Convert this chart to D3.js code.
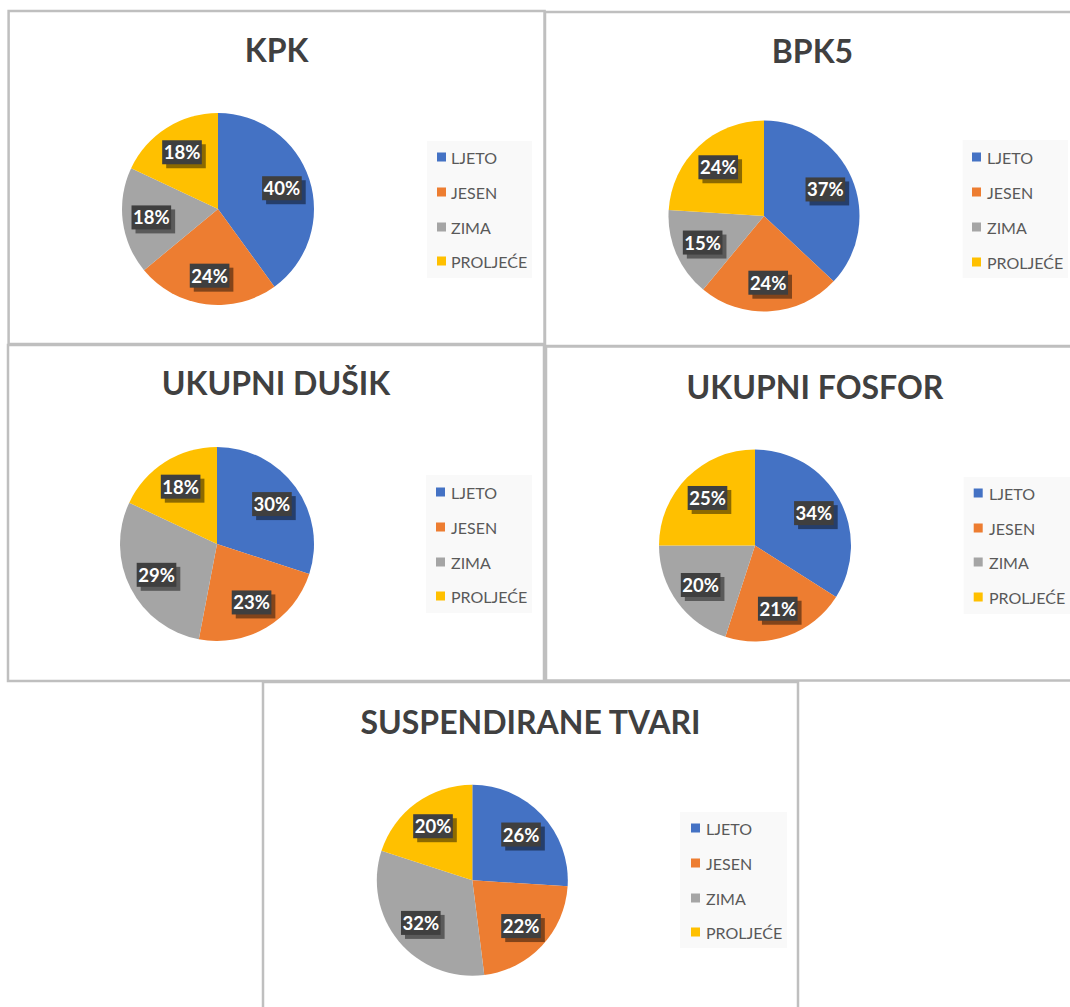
<!DOCTYPE html>
<html>
<head>
<meta charset="utf-8">
<script src="https://cdn.jsdelivr.net/npm/d3@7"></script>
<style>
  html, body { margin: 0; padding: 0; background: #ffffff; }
  svg { display: block; }
</style>
</head>
<body>
<script>
// ---- DATA ----
const categories = ["LJETO", "JESEN", "ZIMA", "PROLJEĆE"];
const chartTitles = ["KPK", "BPK5", "UKUPNI DUŠIK", "UKUPNI FOSFOR", "SUSPENDIRANE TVARI"];
const kpk = [40, 24, 18, 18];
const bpk5 = [37, 24, 15, 24];
const ukupniDusik = [30, 23, 29, 18];
const ukupniFosfor = [34, 21, 20, 25];
const suspendiraneTvari = [26, 22, 32, 20];
const seriesList = [kpk, bpk5, ukupniDusik, ukupniFosfor, suspendiraneTvari];

// ---- LAYOUT (positions only) ----
const layout = [
  { x0: 8.6, y0: 11, x1: 544.6, y1: 344, titleY: 62, cx: 218, cy: 209, r: 96,
    lg: { x0: 427, y0: 141, x1: 532, y1: 278, sx: 437, tx: 451, rows: [157, 192, 227, 261] } },
  { x0: 545, y0: 12, x1: 1080, y1: 346, titleY: 62.5, cx: 764, cy: 216, r: 95.5,
    lg: { x0: 962.6, y0: 140, x1: 1068, y1: 278, sx: 972, tx: 987, rows: [157, 192, 227, 262] } },
  { x0: 8, y0: 345, x1: 544, y1: 681, titleY: 395, cx: 217, cy: 544, r: 97,
    lg: { x0: 426, y0: 475, x1: 532, y1: 613, sx: 436, tx: 451, rows: [492, 527, 562, 596] } },
  { x0: 546, y0: 346.5, x1: 1084, y1: 680.5, titleY: 398.5, cx: 755, cy: 545.5, r: 96,
    lg: { x0: 963.6, y0: 477, x1: 1072, y1: 614, sx: 973.7, tx: 989, rows: [493, 528, 562, 597] } },
  { x0: 263, y0: 682, x1: 798, y1: 1020, titleY: 733.5, cx: 472.3, cy: 880.3, r: 95.5,
    lg: { x0: 680, y0: 812, x1: 787, y1: 948, sx: 691, tx: 706, rows: [828, 863, 898, 932] } }
];

const W = 1070, H = 1007;
const color = d3.scaleOrdinal().domain(categories)
  .range(["#4472C4", "#ED7D31", "#A5A5A5", "#FFC000"]);

const svg = d3.select("body").append("svg")
  .attr("width", W).attr("height", H)
  .attr("viewBox", `0 0 ${W} ${H}`);

svg.append("rect").attr("width", W).attr("height", H).attr("fill", "#ffffff");

const pie = d3.pie().sort(null).value(d => d.value);

seriesList.forEach((values, i) => {
  const L = layout[i];
  const g = svg.append("g");

  // panel border
  g.append("rect")
    .attr("x", L.x0).attr("y", L.y0)
    .attr("width", L.x1 - L.x0).attr("height", L.y1 - L.y0)
    .attr("fill", "#ffffff")
    .attr("stroke", "#bfbfbf").attr("stroke-width", 2.5);

  // title
  g.append("text")
    .attr("x", (L.x0 + L.x1) / 2).attr("y", L.titleY)
    .attr("text-anchor", "middle")
    .attr("font-family", "Lato, 'Open Sans', sans-serif")
    .attr("font-weight", 700)
    .attr("font-size", 32)
    .attr("fill", "#404040")
    .text(chartTitles[i]);

  const data = categories.map((c, k) => ({ cat: c, value: values[k] }));
  const arcs = pie(data);
  const arc = d3.arc().innerRadius(0).outerRadius(L.r);
  const labelArc = d3.arc().innerRadius(L.r * 0.7).outerRadius(L.r * 0.7);

  const pg = g.append("g").attr("transform", `translate(${L.cx},${L.cy})`);
  pg.selectAll("path.slice").data(arcs).join("path")
    .attr("class", "slice")
    .attr("d", arc)
    .attr("fill", d => color(d.data.cat));

  // data labels
  arcs.forEach(a => {
    const [lx, ly] = labelArc.centroid(a);
    const lg = pg.append("g").attr("transform", `translate(${lx},${ly})`);
    const shadow = lg.append("rect");
    const box = lg.append("rect");
    const t = lg.append("text")
      .attr("text-anchor", "middle")
      .attr("dominant-baseline", "central")
      .attr("font-family", "Lato, 'Open Sans', sans-serif")
      .attr("font-weight", 700)
      .attr("font-size", 18.5)
      .attr("fill", "#ffffff")
      .text(`${a.data.value}%`);
    const tw = t.node().getComputedTextLength();
    const bw = tw + 3, bh = 24;
    shadow.attr("x", -bw / 2 + 4).attr("y", -bh / 2 + 4)
      .attr("width", bw).attr("height", bh)
      .attr("fill", "#000000").attr("opacity", 0.45);
    box.attr("x", -bw / 2).attr("y", -bh / 2)
      .attr("width", bw).attr("height", bh)
      .attr("fill", "#3f3f3f");
  });

  // legend
  const lgd = L.lg;
  g.append("rect")
    .attr("x", lgd.x0).attr("y", lgd.y0)
    .attr("width", lgd.x1 - lgd.x0).attr("height", lgd.y1 - lgd.y0)
    .attr("fill", "#f9f9f9");
  categories.forEach((c, k) => {
    g.append("rect")
      .attr("x", lgd.sx).attr("y", lgd.rows[k] - 4.5)
      .attr("width", 9).attr("height", 9)
      .attr("fill", color(c));
    g.append("text")
      .attr("x", lgd.tx).attr("y", lgd.rows[k])
      .attr("dominant-baseline", "central")
      .attr("font-family", "Lato, 'Open Sans', sans-serif")
      .attr("font-size", 16)
      .attr("fill", "#595959")
      .text(c);
  });
});
</script>
</body>
</html>
